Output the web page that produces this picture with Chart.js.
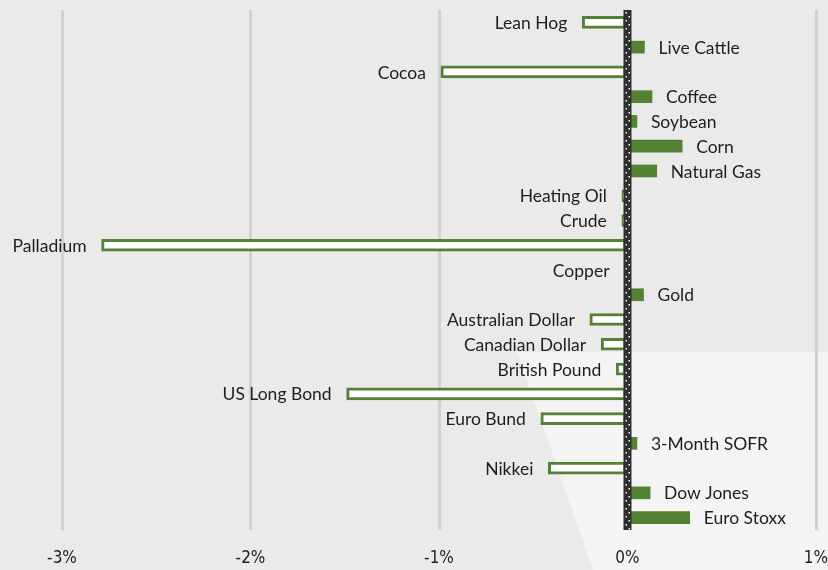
<!DOCTYPE html>
<html>
<head>
<meta charset="utf-8">
<script src="https://cdn.jsdelivr.net/npm/chart.js@4/dist/chart.umd.min.js"></script>
<style>
  html, body { margin: 0; padding: 0; background: #e9eae9; overflow: hidden; }
  #wrap { width: 828px; height: 570px; position: relative; }
  canvas { display: block; }
</style>
</head>
<body>
<div id="wrap"><canvas id="barChart"></canvas></div>
<script>
const labels = ["Lean Hog", "Live Cattle", "Cocoa", "Coffee", "Soybean", "Corn", "Natural Gas",
  "Heating Oil", "Crude", "Palladium", "Copper", "Gold", "Australian Dollar", "Canadian Dollar",
  "British Pound", "US Long Bond", "Euro Bund", "3-Month SOFR", "Nikkei", "Dow Jones", "Euro Stoxx"];
const returns = [-0.24, 0.09, -0.99, 0.13, 0.05, 0.29, 0.155,
  -0.03, -0.03, -2.79, 0, 0.085, -0.2, -0.14,
  -0.06, -1.49, -0.46, 0.05, -0.42, 0.12, 0.33];
const tickValues = [-3, -2, -1, 0, 1];

const green = '#548235';

// background with lighter wedge bottom-right
const backdrop = {
    id: 'backdrop',
    beforeDraw(chart) {
        const c = chart.ctx;
        c.save();
        c.fillStyle = '#e9eae9';
        c.fillRect(0, 0, chart.width, chart.height);
        c.fillStyle = '#f3f4f3';
        c.beginPath();
        c.moveTo(517, 352);
        c.lineTo(chart.width, 352);
        c.lineTo(chart.width, chart.height);
        c.lineTo(593, chart.height);
        c.closePath();
        c.fill();
        c.restore();
    }
};

// dotted zero line and bar labels
const zeroAndLabels = {
    id: 'zeroAndLabels',
    afterDatasetsDraw(chart) {
        const c = chart.ctx;
        const area = chart.chartArea;
        const x0 = chart.scales.x.getPixelForValue(0);
        c.save();
        c.fillStyle = '#2e2e2e';
        c.fillRect(x0 - 4, area.top, 8, area.bottom - area.top);
        c.fillStyle = '#ffffff';
        let k = 0;
        for (let y = area.top + 2; y < area.bottom - 1; y += 4) {
            const dx = (k % 2 === 0) ? -2 : 1;
            c.fillRect(x0 + dx, y, 1.5, 1.5);
            k++;
        }

        c.font = '17.5px Lato, "Noto Sans", sans-serif';
        c.fillStyle = '#1e1e1e';
        c.textBaseline = 'middle';
        chart.getDatasetMeta(0).data.forEach((bar, i) => {
            const v = returns[i];
            if (v > 0) {
                c.textAlign = 'left';
                c.fillText(labels[i], bar.x + 14, bar.y + 1);
            } else {
                c.textAlign = 'right';
                c.fillText(labels[i], Math.min(bar.x, x0 - 3) - 15, bar.y + 1);
            }
        });
        c.restore();
    }
};

new Chart(document.getElementById('barChart'), {
    type: 'bar',
    data: {
        labels: labels,
        datasets: [{
            data: returns,
            backgroundColor: returns.map(v => v > 0 ? green : '#ffffff'),
            borderColor: green,
            borderWidth: returns.map(v => v > 0 ? 0 : 3),
            borderSkipped: false,
            barThickness: 12
        }]
    },
    options: {
        indexAxis: 'y',
        responsive: true,
        maintainAspectRatio: false,
        animation: false,
        layout: { padding: { left: 62, right: 12, top: 10, bottom: 0 } },
        plugins: { legend: { display: false }, tooltip: { enabled: false } },
        scales: {
            x: {
                min: -3,
                max: 1,
                afterBuildTicks(axis) { axis.ticks = tickValues.map(v => ({ value: v })); },
                afterFit(axis) {
                    axis.paddingLeft = 0;
                    axis.paddingRight = 0;
                    axis.paddingTop = 0;
                    axis.paddingBottom = 0;
                    axis.height = 40;
                },
                grid: {
                    color: ctx => ctx.tick && ctx.tick.value === 0 ? 'rgba(0,0,0,0)' : '#d2d2d2',
                    lineWidth: 3,
                    drawTicks: false
                },
                border: { display: false },
                ticks: {
                    padding: 18,
                    color: '#1e1e1e',
                    font: { family: '"Liberation Sans Narrow", "DejaVu Sans Condensed", sans-serif', size: 17 },
                    callback: v => v + '%'
                }
            },
            y: {
                display: false,
                grid: { display: false }
            }
        }
    },
    plugins: [backdrop, zeroAndLabels]
});
</script>
</body>
</html>
